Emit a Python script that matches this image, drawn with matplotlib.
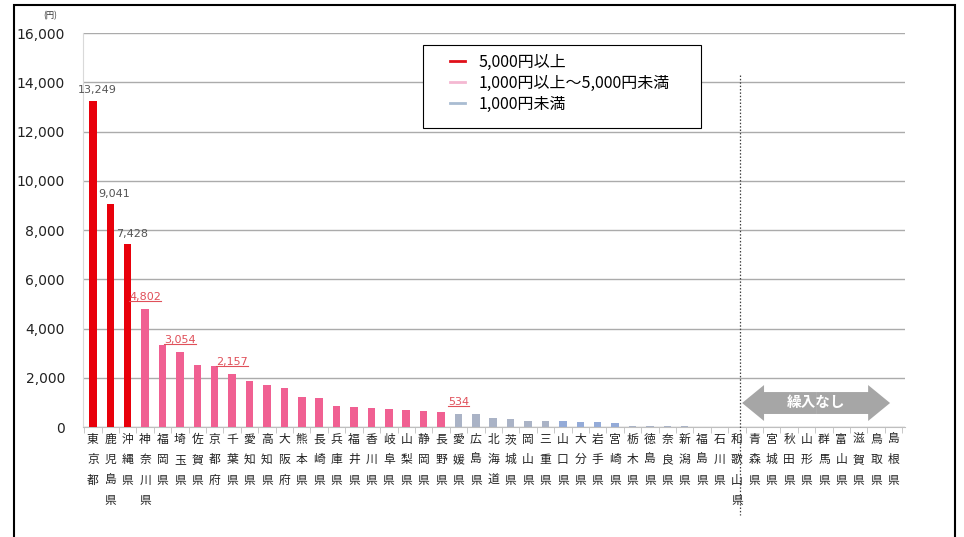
""" Prefecture amounts bar chart (円) """
import matplotlib
matplotlib.use('Agg')
import matplotlib.pyplot as plt
from matplotlib.lines import Line2D
from matplotlib.patches import FancyArrow, Rectangle
import matplotlib.transforms as mtrans

plt.rcParams['font.family'] = ['Noto Sans CJK JP', 'DejaVu Sans']

# prefectures, left to right
PREFS = ['東京都', '鹿児島県', '沖縄県', '神奈川県', '福岡県', '埼玉県', '佐賀県',
         '京都府', '千葉県', '愛知県', '高知県', '大阪府', '熊本県', '長崎県',
         '兵庫県', '福井県', '香川県', '岐阜県', '山梨県', '静岡県', '長野県',
         '愛媛県', '広島県', '北海道', '茨城県', '岡山県', '三重県', '山口県',
         '大分県', '岩手県', '宮崎県', '栃木県', '徳島県', '奈良県', '新潟県',
         '福島県', '石川県', '和歌山県',
         '青森県', '宮城県', '秋田県', '山形県', '群馬県', '富山県', '滋賀県',
         '鳥取県', '島根県']
VALUES = [13249, 9041, 7428, 4802, 3330, 3054, 2530, 2490, 2157, 1860, 1720,
          1600, 1200, 1160, 870, 800, 760, 730, 690, 650, 600,
          534, 520, 350, 340, 250, 240, 260, 200, 210, 160,
          40, 30, 30, 25, 20, 20, 10,
          0, 0, 0, 0, 0, 0, 0, 0, 0]
# 0: 5,000円以上, 1: 1,000円以上～5,000円未満, 2: 1,000円未満
TIER = [0] * 3 + [1] * 18 + [2] * 26
TIER_NAMES = ['5,000円以上', '1,000円以上～5,000円未満', '1,000円未満']
N_WITH_DATA = 38          # prefectures after this had no 繰入
GREY_LABELS = [0, 1, 2]       # plain value labels
RED_LABELS = [3, 5, 8, 21]    # underlined value labels

BAR_COLORS = ['#E8000B', '#F06092', '#AAB3C6']
BLUE_TINT = '#94ABD8'
LEGEND_COLORS = ['#E0101A', '#F4B8D2', '#A9BCD2']

fig = plt.figure(figsize=(9.64, 5.37), dpi=100)
ax = fig.add_axes([0.0861, 0.2048, 0.8529, 0.7337])

x = list(range(len(PREFS)))
colors = []
for i, t in enumerate(TIER):
    c = BAR_COLORS[t]
    if PREFS[i] in ('山口県', '大分県', '岩手県', '宮崎県'):
        c = BLUE_TINT
    colors.append(c)
ax.bar(x, VALUES, width=0.43, color=colors, zorder=3)

ax.set_xlim(-0.57, len(PREFS) - 0.33)
ax.set_ylim(0, 16000)
ax.set_yticks(range(0, 16001, 2000))
ax.set_yticklabels([f'{v:,}' for v in range(0, 16001, 2000)], fontsize=10,
                   color='#222222', family=['DejaVu Sans'])
ax.tick_params(axis='y', length=0, pad=13)
ax.grid(axis='y', color='#ABABAB', lw=1, zorder=0)

ax.set_xticks(x)
ax.set_xticklabels(['\n'.join(n) for n in PREFS], fontsize=8.5,
                   linespacing=1.75, color='#222222')
ax.tick_params(axis='x', length=0, pad=4)
ax.set_xticks([i + 0.5 for i in range(-1, len(PREFS))], minor=True)
ax.tick_params(axis='x', which='minor', length=4, color='#BFBFBF')

for s in ['top', 'right']:
    ax.spines[s].set_visible(False)
ax.spines['left'].set_color('#D9D9D9')
ax.spines['bottom'].set_color('#BFBFBF')

ax.text(-0.04, 1.043, '(円)', transform=ax.transAxes, fontsize=6,
        ha='center', va='center', color='#333333')

# value labels
for i in GREY_LABELS:
    ax.annotate(f'{VALUES[i]:,}', (i, VALUES[i]), xytext=(3, 4),
                textcoords='offset points', ha='center', va='bottom',
                fontsize=8, color='#555555', family=['DejaVu Sans'])
red_texts = []
for i in RED_LABELS:
    t = ax.annotate(f'{VALUES[i]:,}', (i, VALUES[i]), xytext=(0, 5),
                    textcoords='offset points', ha='center', va='bottom',
                    fontsize=8, color='#E0505A', family=['DejaVu Sans'])
    red_texts.append(t)

# legend: frame drawn separately so the entries can sit indented
ax.add_patch(Rectangle((0.4136, 0.759), 0.3375, 0.2107, transform=ax.transAxes,
                       facecolor='white', edgecolor='black', lw=0.8,
                       zorder=4))
handles = [Line2D([], [], color=c, lw=2) for c in LEGEND_COLORS]
leg = ax.legend(handles, TIER_NAMES, loc='upper left',
                bbox_to_anchor=(0.4428, 0.955), fontsize=11.5, frameon=False,
                handlelength=0.95, handletextpad=0.8, borderpad=0.2,
                labelspacing=0.25, borderaxespad=0)
leg.set_zorder(5)

# separator between prefectures with/without 繰入
sep = N_WITH_DATA - 0.85
trans = mtrans.blended_transform_factory(ax.transData, ax.transAxes)
ax.plot([sep, sep], [0.893, -0.223], transform=trans, clip_on=False,
        color='#404040', lw=0.9, ls=(0, (1.2, 1.5)), zorder=4)

# double arrow "繰入なし"
a_left, a_right = N_WITH_DATA - 0.7, len(PREFS) - 1.2
mid = (a_left + a_right) / 2
for dx in (a_right - mid, a_left - mid):
    ax.add_patch(FancyArrow(mid, 975, dx, 0, width=890, head_width=1460,
                            head_length=1.26, length_includes_head=True,
                            color='#A6A6A6', lw=0, zorder=4))
ax.text(mid, 1000, '繰入なし', ha='center', va='center', fontsize=10.5,
        color='white', fontweight='bold', zorder=5)

# underline the red labels
fig.canvas.draw()
inv = fig.transFigure.inverted()
for t in red_texts:
    bb = t.get_window_extent()
    (x0, y0), (x1, _) = inv.transform([[bb.x0, bb.y0 + 1], [bb.x1, bb.y0]])
    fig.add_artist(Line2D([x0, x1], [y0, y0], color='#E0505A', lw=0.8))

# outer frame
fig.add_artist(Rectangle((14 / 964, -0.02), (955 - 14) / 964, 1.02 - 5 / 537,
                         transform=fig.transFigure, fill=False,
                         edgecolor='black', lw=1.5))

fig.savefig('out.png', dpi=100)
